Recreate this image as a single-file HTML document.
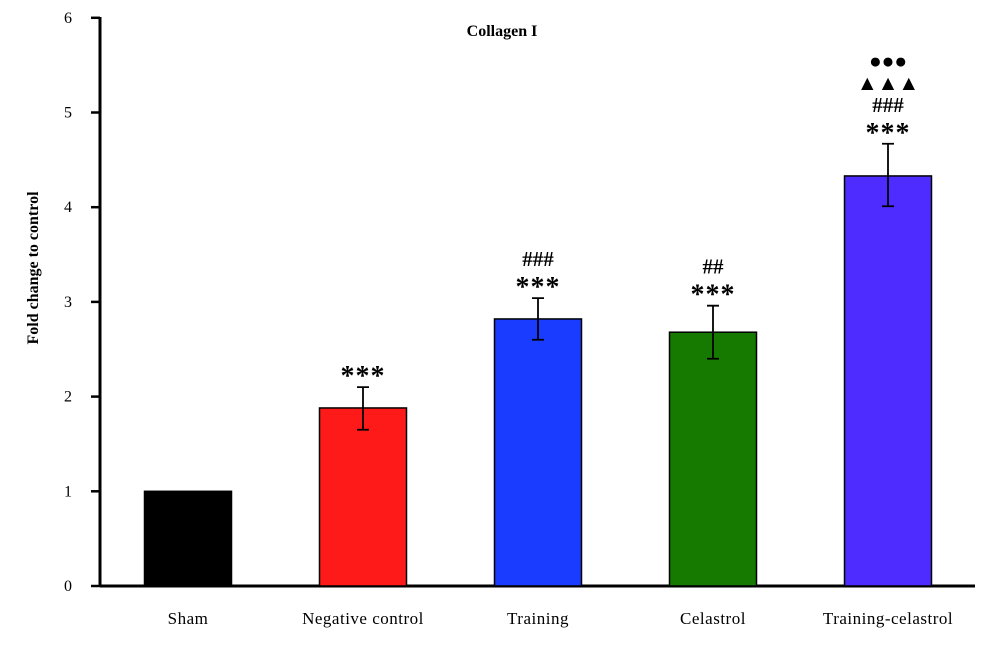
<!DOCTYPE html>
<html><head><meta charset="utf-8"><style>
html,body{margin:0;padding:0;background:#fff;}
svg{display:block;font-family:"Liberation Serif","DejaVu Serif",serif;}
</style></head><body>
<svg id="chart" width="1000" height="648" viewBox="0 0 1000 648" xmlns="http://www.w3.org/2000/svg">
<text x="502" y="36" font-size="16" font-weight="bold" text-anchor="middle">Collagen I</text>
<text transform="translate(38,268) rotate(-90)" font-size="16" font-weight="bold" text-anchor="middle">Fold change to control</text>
<g id="plot"></g>
</svg>
<script>
const categories=["Sham","Negative control","Training","Celastrol","Training-celastrol"];
const values=[1,1.88,2.82,2.68,4.33];
const errLow=[null,1.65,2.60,2.40,4.01];
const errHigh=[null,2.10,3.04,2.96,4.67];
const colors=["#000000","#ff1a1a","#1a3cff","#177a00","#4e2cff"];
const annotations=[[],["***"],["###","***"],["##","***"],["●●●","▲▲▲","###","***"]];
const yTicks=[0,1,2,3,4,5,6];
const NS="http://www.w3.org/2000/svg";
const g=document.getElementById("plot");
function y(v){return 586-v*94.7;}
function xc(i){return 188+i*175;}
function mk(t,a){const e=document.createElementNS(NS,t);for(const k in a)e.setAttribute(k,a[k]);g.appendChild(e);return e;}
let ax=mk("line",{x1:100,y1:586,x2:975,y2:586,stroke:"#000","stroke-width":3});


let ay=mk("line",{x1:100,y1:17,x2:100,y2:587,stroke:"#000","stroke-width":3});


yTicks.forEach(t=>{
  let l=mk("line",{x1:91,y1:y(t),x2:100,y2:y(t),stroke:"#000","stroke-width":2.5});
  
  
  let tx=mk("text",{x:72,y:y(t)+5,"font-size":16,"text-anchor":"end"});
  tx.textContent=t;
  
  
});
categories.forEach((c,i)=>{
  const x=xc(i),w=87;
  let r=mk("rect",{x:x-w/2,y:y(values[i]),width:w,height:586-y(values[i]),fill:colors[i],stroke:"#000","stroke-width":1.5});
  
  
  let lb=mk("text",{x:x,y:624,"font-size":17,"text-anchor":"middle","letter-spacing":"0.5"});
  lb.textContent=c;
  
  
  let top=y(values[i]);
  if(errLow[i]!=null){
    let e=mk("path",{d:`M${x},${y(errLow[i])}V${y(errHigh[i])}M${x-6},${y(errLow[i])}H${x+6}M${x-6},${y(errHigh[i])}H${x+6}`,stroke:"#000","stroke-width":1.8,fill:"none"});
    
    
    top=y(errHigh[i]);
  }
  const ann=annotations[i];
  ann.forEach((s,k)=>{
    const yy=top-10-(ann.length-1-k)*22;
    let t=mk("text",{x:x,y:yy+(s==="***"?8:0),"font-size":s==="***"?28:21,"font-weight":"bold","text-anchor":"middle","letter-spacing":s==="***"?"1":"0"});
    t.textContent=s;
    
    
  });
});
</script>
</body></html>
